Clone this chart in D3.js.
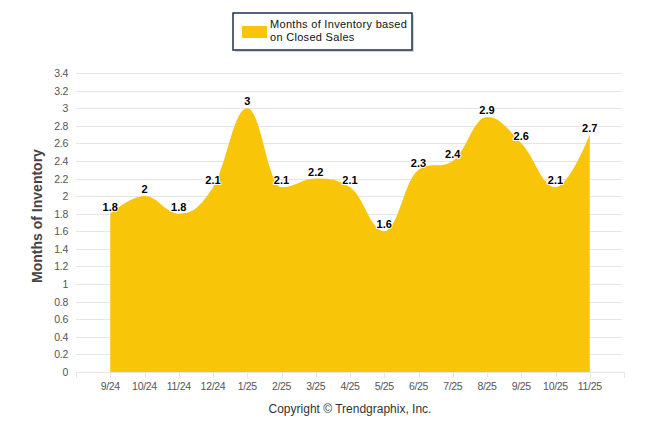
<!DOCTYPE html>
<html><head><meta charset="utf-8">
<script src="https://cdn.jsdelivr.net/npm/d3@7/dist/d3.min.js"></script>
<style>body{margin:0;background:#fff;}svg{display:block;font-family:"Liberation Sans",Arial,sans-serif;}</style>
</head><body>
<svg id="c" width="646" height="434"></svg>
<script>
const categories = ["9/24","10/24","11/24","12/24","1/25","2/25","3/25","4/25","5/25","6/25","7/25","8/25","9/25","10/25","11/25"];
const values = [1.8, 2, 1.8, 2.1, 3, 2.1, 2.2, 2.1, 1.6, 2.3, 2.4, 2.9, 2.6, 2.1, 2.7];
const yTicks = [0,0.2,0.4,0.6,0.8,1,1.2,1.4,1.6,1.8,2,2.2,2.4,2.6,2.8,3,3.2,3.4];
const seriesName = ["Months of Inventory based", "on Closed Sales"];
const yTitle = "Months of Inventory";
const credit = "Copyright \u00A9 Trendgraphix, Inc.";

const svg = d3.select("#c");
const L = 76, R = 624, T = 73, B = 372;
const x = d3.scaleLinear().domain([-1, categories.length]).range([L, R]);
const y = d3.scaleLinear().domain([0, 3.4]).range([B, T]);
const fill = "#f8c509";

// grid
svg.append("g").selectAll("line").data(yTicks).join("line")
  .attr("x1", L).attr("x2", R - 2).attr("y1", d => Math.round(y(d)) + 0.5).attr("y2", d => Math.round(y(d)) + 0.5)
  .attr("stroke", "#e6e6e6").attr("stroke-width", 1);

// y labels
svg.append("g").selectAll("text").data(yTicks).join("text")
  .attr("x", 68).attr("y", d => y(d) + 4).attr("text-anchor", "end")
  .attr("font-size", 10.5).attr("fill", "#555").attr("letter-spacing", -0.3)
  .text(d => d3.format("")(d));

// Highcharts-like spline
const pts = values.map((v, i) => ({ x: x(i), y: y(v) }));
function splinePath(points) {
  const sm = 1.5, den = sm + 1;
  const p = d3.path();
  p.moveTo(points[0].x, points[0].y);
  let prevRC = null;
  for (let i = 1; i < points.length; i++) {
    const pt = points[i], last = points[i - 1], next = points[i + 1];
    let lcx = pt.x, lcy = pt.y, rc = null;
    if (next) {
      lcx = (sm * pt.x + last.x) / den; lcy = (sm * pt.y + last.y) / den;
      let rcx = (sm * pt.x + next.x) / den, rcy = (sm * pt.y + next.y) / den;
      let corr = 0;
      if (rcx !== lcx) corr = ((rcy - lcy) * (rcx - pt.x)) / (rcx - lcx) + pt.y - rcy;
      lcy += corr; rcy += corr;
      if (lcy > last.y && lcy > pt.y) { lcy = Math.max(last.y, pt.y); rcy = 2 * pt.y - lcy; }
      else if (lcy < last.y && lcy < pt.y) { lcy = Math.min(last.y, pt.y); rcy = 2 * pt.y - lcy; }
      if (rcy > next.y && rcy > pt.y) { rcy = Math.max(next.y, pt.y); lcy = 2 * pt.y - rcy; }
      else if (rcy < next.y && rcy < pt.y) { rcy = Math.min(next.y, pt.y); lcy = 2 * pt.y - rcy; }
      rc = { x: rcx, y: rcy };
    }
    const c1 = prevRC || last;
    p.bezierCurveTo(c1.x, c1.y, lcx, lcy, pt.x, pt.y);
    prevRC = rc;
  }
  return p;
}
const path = splinePath(pts);
path.lineTo(pts[pts.length - 1].x, y(0));
path.lineTo(pts[0].x, y(0));
path.closePath();
svg.append("path").attr("d", path.toString()).attr("fill", fill).attr("stroke", "none");

// x axis
svg.append("line").attr("x1", L).attr("x2", R).attr("y1", B + 0.5).attr("y2", B + 0.5).attr("stroke", "#e6e6e6");
const xt = d3.range(-1, categories.length + 1);
svg.append("g").selectAll("line").data(xt).join("line")
  .attr("x1", d => Math.round(x(d)) + 0.5).attr("x2", d => Math.round(x(d)) + 0.5)
  .attr("y1", B).attr("y2", B + 6).attr("stroke", "#e6e6e6");
svg.append("g").selectAll("text").data(categories).join("text")
  .attr("x", (d, i) => x(i)).attr("y", 390).attr("text-anchor", "middle")
  .attr("font-size", 10.5).attr("fill", "#555").attr("letter-spacing", -0.3).text(d => d);

// data labels
svg.append("g").selectAll("text").data(values).join("text")
  .attr("x", (d, i) => x(i)).attr("y", d => y(d) - 3).attr("text-anchor", "middle")
  .attr("font-size", 11).attr("font-weight", "bold").attr("fill", "#000")
  .attr("stroke", "#fff").attr("stroke-width", 2).attr("stroke-linejoin", "round").attr("paint-order", "stroke")
  .text(d => d);

// y title
svg.append("text").attr("transform", "translate(42,216) rotate(-90)").attr("text-anchor", "middle")
  .attr("font-size", 14).attr("font-weight", "bold").attr("fill", "#444").text(yTitle);

// legend
const lg = svg.append("g");
lg.append("rect").attr("x", 235).attr("y", 15).attr("width", 179).attr("height", 37).attr("fill", "#888").attr("opacity", 0.35);
lg.append("rect").attr("x", 233).attr("y", 13).attr("width", 179).attr("height", 37).attr("fill", "#fff").attr("stroke", "#1c2f4f").attr("stroke-width", 1.5);
lg.append("rect").attr("x", 242).attr("y", 26).attr("width", 25).attr("height", 12).attr("fill", fill);
lg.selectAll("text").data(seriesName).join("text")
  .attr("x", 270).attr("y", (d, i) => 28 + i * 13).attr("font-size", 11).attr("letter-spacing", 0.3)
  .attr("fill", "#111").text(d => d);

// credit
svg.append("text").attr("x", 350).attr("y", 413).attr("text-anchor", "middle").attr("font-size", 12).attr("fill", "#333").text(credit);
</script>
</body></html>
